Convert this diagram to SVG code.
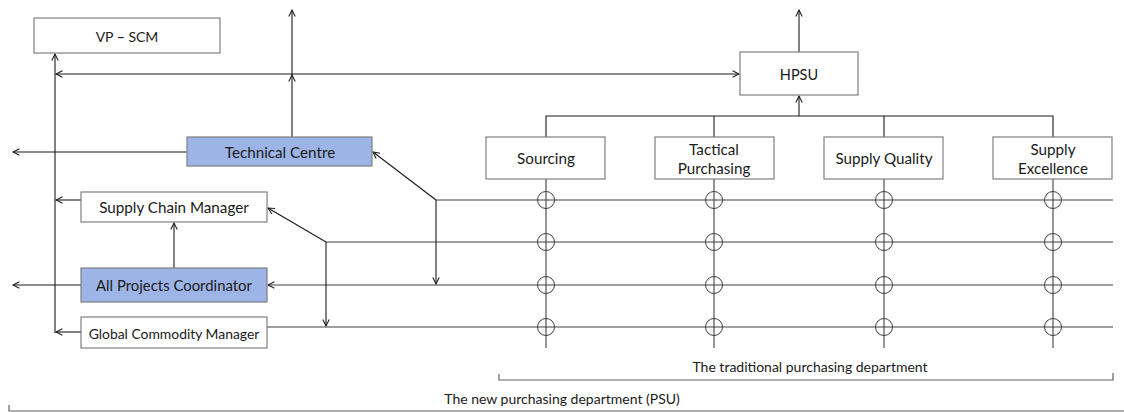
<svg xmlns="http://www.w3.org/2000/svg" width="1124" height="412" viewBox="0 0 1124 412">
  <style>
    .box { fill: #ffffff; stroke: #7f7f7f; stroke-width: 1.2; }
    .hl { fill: #9db5e6; stroke: #7f7f7f; stroke-width: 1.2; }
    .lbl { font-family: Lato, "Liberation Sans", sans-serif; font-size: 15.2px; fill: #1a1a1a; text-anchor: middle; dominant-baseline: central; }
    .cap { font-family: Lato, "Liberation Sans", sans-serif; font-size: 14px; fill: #1a1a1a; text-anchor: middle; }
    .ln { fill: none; stroke: #1a1a1a; stroke-width: 1.1; }
    .grid { fill: none; stroke: #404040; stroke-width: 1.1; }
    .ring { fill: none; stroke: #404040; stroke-width: 1; }
    .brk { fill: none; stroke: #606060; stroke-width: 1.2; }
    .arr { marker-end: url(#open); }
    .both { marker-start: url(#open); marker-end: url(#open); }
  </style>
  <defs>
    <marker id="open" viewBox="0 0 10 10" refX="9" refY="5" markerWidth="8" markerHeight="8" markerUnits="userSpaceOnUse" orient="auto-start-reverse">
      <path d="M1,1 L9,5 L1,9" fill="none" stroke="#1a1a1a" stroke-width="1.3"/>
    </marker>
  </defs>

  <!-- connectors -->
  <g id="connectors">
    <!-- left spine to VP-SCM -->
    <line class="ln arr" x1="55" y1="333" x2="55" y2="54"/>
    <!-- VP-SCM spine <-> HPSU -->
    <line class="ln both" x1="56" y1="74" x2="739" y2="74"/>
    <!-- Technical Centre upward -->
    <line class="ln arr" x1="292" y1="137" x2="292" y2="75"/>
    <line class="ln arr" x1="292" y1="75" x2="292" y2="10"/>
    <!-- HPSU upward -->
    <line class="ln arr" x1="799" y1="52" x2="799" y2="10"/>
    <!-- functional bus into HPSU -->
    <line class="ln arr" x1="799" y1="116" x2="799" y2="96"/>
    <polyline class="ln" points="546,137 546,116 1053,116 1053,137"/>
    <line class="ln" x1="714" y1="116" x2="714" y2="137"/>
    <line class="ln" x1="884" y1="116" x2="884" y2="137"/>

    <!-- outward arrows on the left -->
    <line class="ln arr" x1="187" y1="152" x2="13" y2="152"/>
    <line class="ln arr" x1="81" y1="285" x2="13" y2="285"/>
    <line class="ln arr" x1="81" y1="200" x2="56" y2="200"/>
    <line class="ln arr" x1="81" y1="332" x2="56" y2="332"/>
    <!-- All Projects Coordinator to Supply Chain Manager -->
    <line class="ln arr" x1="174" y1="268" x2="174" y2="223"/>

    <!-- horizontal grid lines -->
    <line class="grid" x1="436" y1="200" x2="1113" y2="200"/>
    <line class="grid" x1="326" y1="242" x2="1113" y2="242"/>
    <line class="grid arr" x1="1113" y1="285" x2="268" y2="285"/>
    <line class="grid" x1="267" y1="327" x2="1113" y2="327"/>

    <!-- feeds from the grid -->
    <line class="ln arr" x1="436" y1="200" x2="373" y2="152"/>
    <line class="ln arr" x1="436" y1="200" x2="436" y2="284"/>
    <line class="ln arr" x1="326" y1="242" x2="268" y2="208"/>
    <line class="ln arr" x1="326" y1="242" x2="326" y2="326"/>

    <!-- functional columns -->
    <line class="grid" x1="546" y1="179" x2="546" y2="348"/>
    <line class="grid" x1="714" y1="179" x2="714" y2="348"/>
    <line class="grid" x1="884" y1="179" x2="884" y2="348"/>
    <line class="grid" x1="1053" y1="179" x2="1053" y2="348"/>

    <!-- crossings -->
    <g class="ring">
      <circle cx="546" cy="200" r="8.5"/><circle cx="714" cy="200" r="8.5"/><circle cx="884" cy="200" r="8.5"/><circle cx="1053" cy="200" r="8.5"/>
      <circle cx="546" cy="242" r="8.5"/><circle cx="714" cy="242" r="8.5"/><circle cx="884" cy="242" r="8.5"/><circle cx="1053" cy="242" r="8.5"/>
      <circle cx="546" cy="285" r="8.5"/><circle cx="714" cy="285" r="8.5"/><circle cx="884" cy="285" r="8.5"/><circle cx="1053" cy="285" r="8.5"/>
      <circle cx="546" cy="327" r="8.5"/><circle cx="714" cy="327" r="8.5"/><circle cx="884" cy="327" r="8.5"/><circle cx="1053" cy="327" r="8.5"/>
    </g>
  </g>

  <!-- nodes -->
  <g id="vp-scm">
    <rect class="box" x="34" y="18" width="186" height="35"/>
    <text class="lbl" x="127" y="36" style="font-size:14px">VP <tspan font-weight="bold">–</tspan> SCM</text>
  </g>
  <g id="technical-centre">
    <rect class="hl" x="187" y="137" width="185" height="29"/>
    <text class="lbl" x="280" y="152">Technical Centre</text>
  </g>
  <g id="supply-chain-manager">
    <rect class="box" x="81" y="192" width="186" height="30"/>
    <text class="lbl" x="174" y="207">Supply Chain Manager</text>
  </g>
  <g id="all-projects-coordinator">
    <rect class="hl" x="81" y="268" width="186" height="34"/>
    <text class="lbl" x="174" y="285" style="font-size:14.9px">All Projects Coordinator</text>
  </g>
  <g id="global-commodity-manager">
    <rect class="box" x="81" y="317" width="186" height="31"/>
    <text class="lbl" x="174" y="333" style="font-size:13.9px">Global Commodity Manager</text>
  </g>
  <g id="hpsu">
    <rect class="box" x="740" y="52" width="118" height="43"/>
    <text class="lbl" x="799" y="74" style="font-size:14.5px">HPSU</text>
  </g>
  <g id="sourcing">
    <rect class="box" x="486" y="137" width="119" height="42"/>
    <text class="lbl" x="546" y="158">Sourcing</text>
  </g>
  <g id="tactical-purchasing">
    <rect class="box" x="655" y="137" width="119" height="42"/>
    <text class="lbl" x="714" y="149">Tactical</text>
    <text class="lbl" x="714" y="168">Purchasing</text>
  </g>
  <g id="supply-quality">
    <rect class="box" x="824" y="137" width="119" height="42"/>
    <text class="lbl" x="884" y="158">Supply Quality</text>
  </g>
  <g id="supply-excellence">
    <rect class="box" x="993" y="137" width="119" height="42"/>
    <text class="lbl" x="1053" y="149">Supply</text>
    <text class="lbl" x="1053" y="168">Excellence</text>
  </g>

  <!-- department brackets -->
  <g id="traditional-department">
    <text class="cap" x="810" y="372">The traditional purchasing department</text>
    <polyline class="brk" points="499,374 499,380 1113,380 1113,373"/>
  </g>
  <g id="new-department">
    <text class="cap" x="562" y="404">The new purchasing department  (PSU)</text>
    <polyline class="brk" points="9,405 9,411 1124,411"/>
  </g>
</svg>
